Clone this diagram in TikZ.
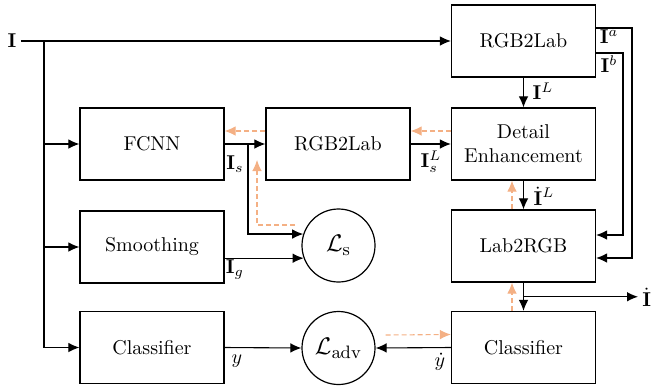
\documentclass[tikz,border=0pt]{standalone}
\usetikzlibrary{arrows.meta,calc}
\definecolor{grad}{RGB}{244,176,132}
\begin{document}
\begin{tikzpicture}[x=0.5pt,y=-0.5pt,
  box/.style={draw,line width=0.6pt,minimum width=72pt,minimum height=36pt,inner sep=0pt,align=center},
  circ/.style={draw,circle,line width=0.6pt,minimum size=36.5pt,inner sep=0pt,font=\fontsize{13}{15}\selectfont},
  lbl/.style={inner sep=0pt},
  arrow/.style={line width=0.55pt,-{Latex[length=5.5pt,width=4.8pt]}},
  plain/.style={line width=0.55pt},
  oarrow/.style={grad,line width=0.55pt,dashed,dash pattern=on 2.5pt off 1.5pt,-{Latex[length=5.5pt,width=4.8pt]}}]
\useasboundingbox (0,0) rectangle (653,387);

% processing blocks
\node[box] (lab1) at (523.5,41) {RGB2Lab};
\node[box] (fcnn) at (152,144) {FCNN};
\node[box] (lab2) at (338,144) {RGB2Lab};
\node[box] (de) at (523.5,144) {Detail\\Enhancement};
\node[box] (smooth) at (152,247) {Smoothing};
\node[box] (torgb) at (523.5,246) {Lab2RGB};
\node[box] (clsL) at (152,347.5) {Classifier};
\node[box] (clsR) at (523.5,347.5) {Classifier};
\node[circ] (ls) at (338.5,245.5) {$\mathcal{L}_\mathrm{s}$};
\node[circ] (ladv) at (338.5,348) {$\mathcal{L}_\mathrm{adv}$};

% input and its fan-out
\node[lbl] (in) at (12,41) {$\mathbf{I}$};
\coordinate (split) at (44,41);
\draw[arrow] (in.east) ++(4,0) -- (lab1.west);
\draw[plain] (split) -- (split |- clsL);
\draw[arrow] (split |- fcnn) -- (fcnn.west);
\draw[arrow] (split |- smooth) -- (smooth.west);
\draw[arrow] (split |- clsL) -- (clsL.west);

% chroma channels bypass to Lab2RGB
\coordinate (ta) at (632,28);
\coordinate (tb) at (623,53);
\draw[arrow] (lab1.east |- ta) -- (ta) |- ($(torgb.east)+(0,12)$);
\draw[arrow] (lab1.east |- tb) -- (tb) |- ($(torgb.east)+(0,-11)$);
\node[lbl] (la) at (609,37) {$\mathbf{I}^a$};
\node[lbl] (lb) at (609,64) {$\mathbf{I}^b$};

% luminance path
\draw[arrow] (lab1.south) -- (de.north);
\node[lbl] (lL) at (543,91) {$\mathbf{I}^L$};
\draw[arrow] (fcnn.east) -- (lab2.west);
\node[lbl] (lIs) at (235,164) {$\mathbf{I}_s$};
\draw[arrow] (lab2.east) -- (de.west);
\node[lbl] (lIsL) at (431,162) {$\mathbf{I}_s^L$};
\draw[arrow] (de.south) -- (torgb.north);
\node[lbl] (ldL) at (544,196) {$\dot{\mathbf{I}}^L$};

% smoothness loss inputs
\coordinate (br) at (248,144);
\draw[arrow] (br) |- (ls.162);
\draw[arrow] (smooth.east |- ls.200) -- (ls.200);
\node[lbl] (lIg) at (235,269) {$\mathbf{I}_g$};

% output and adversarial branch
\node[lbl,anchor=west] (out) at (642,297) {$\dot{\mathbf{I}}$};
\draw[arrow] (torgb.south) -- (clsR.north);
\coordinate (tap) at ($(torgb.south)!0.5!(clsR.north)$);
\draw[arrow] (tap) -- ($(out.west |- tap)+(-4,0)$);
\draw[arrow] (clsL.east) -- (ladv.west);
\node[lbl] (ly) at (237,361) {$y$};
\draw[arrow] (clsR.west) -- (ladv.east);
\node[lbl] (ldy) at (440,362) {$\dot{y}$};

% gradient flow (dashed)
\draw[oarrow] ($(de.west)+(0,-13)$) -- ($(lab2.east)+(0,-13)$);
\draw[oarrow] ($(lab2.west)+(0,-13)$) -- ($(fcnn.east)+(0,-13)$);
\coordinate (gs) at (295,225);
\draw[oarrow] (gs) -| (257,160);
\draw[oarrow] ($(torgb.north)+(-11.5,0)$) -- ($(de.south)+(-11.5,0)$);
\draw[oarrow] ($(clsR.north)+(-11.5,0)$) -- ($(torgb.south)+(-11.5,0)$);
\draw[oarrow] ($(ladv.east)+(10,-13)$) -- ($(clsR.west)+(0,-13)$);
\end{tikzpicture}
\end{document}
